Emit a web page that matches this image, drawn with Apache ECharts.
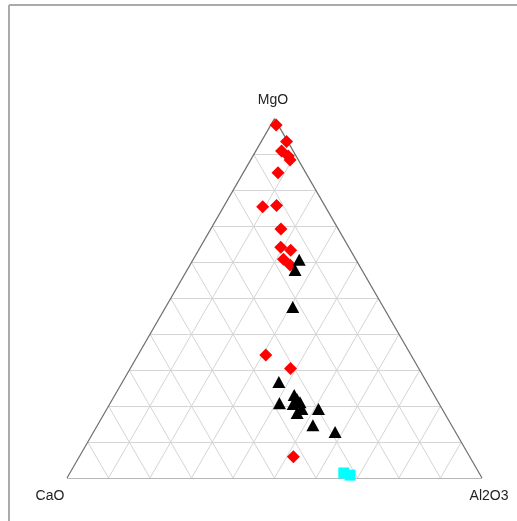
<!DOCTYPE html>
<html><head><meta charset="utf-8">
<script src="https://cdn.jsdelivr.net/npm/echarts@6/dist/echarts.min.js"></script>
<style>html,body{margin:0;padding:0;background:#fff}#c{width:517px;height:521px}</style>
</head><body><div id="c"></div>
<script>
// Vertex labels: left, top, right
var vertexLabels = ['CaO', 'MgO', 'Al2O3'];
// Compositions in percent: [MgO, Al2O3, CaO]
var redDiamonds = [
  [98.2, 1.3, 0.5], [93.6, 6.1, 0.3], [91.0, 6.2, 2.8], [89.6, 8.5, 1.9],
  [88.5, 9.5, 2.0], [84.9, 8.4, 6.7], [75.5, 9.4, 15.1], [75.8, 12.6, 11.6],
  [69.3, 16.9, 13.8], [64.2, 19.4, 16.4], [63.4, 22.2, 14.4], [60.9, 21.7, 17.4],
  [59.3, 24.1, 16.6], [34.2, 30.8, 35.0], [30.5, 38.6, 30.9], [5.9, 51.6, 42.5]
];
var blackTriangles = [
  [60.7, 25.6, 13.7], [57.9, 26.0, 16.1], [47.6, 30.6, 21.8], [26.7, 37.7, 35.6],
  [20.8, 40.8, 38.4], [23.1, 43.2, 33.7], [22.0, 44.4, 33.6], [21.1, 45.6, 33.3],
  [20.6, 44.2, 35.2], [19.2, 47.0, 33.8], [18.1, 46.4, 35.5], [19.2, 51.0, 29.8],
  [14.7, 51.9, 33.4], [12.8, 58.2, 29.0]
];
var cyanSquares = [
  [1.4, 66.0, 32.6], [0.8, 67.8, 31.4]
];
var gridSteps = [10, 20, 30, 40, 50, 60, 70, 80, 90];

var S = Math.sqrt(3) / 2;
function toXY(mg, al, ca) {
  var t = mg + al + ca;
  mg /= t; al /= t;
  return [al + mg / 2, mg * S];
}
function conv(arr) { return arr.map(function (d) { return toXY(d[0], d[1], d[2]); }); }

var gridLines = [];
gridSteps.forEach(function (p) {
  var q = 100 - p;
  gridLines.push({coords: [toXY(p, 0, q), toXY(p, q, 0)]});   // MgO const
  gridLines.push({coords: [toXY(0, p, q), toXY(q, p, 0)]});   // Al2O3 const
  gridLines.push({coords: [toXY(0, q, p), toXY(q, 0, p)]});   // CaO const
});
var edges = [
  {coords: [toXY(0, 0, 100), toXY(0, 100, 0)]},
  {coords: [toXY(0, 100, 0), toXY(100, 0, 0)]},
  {coords: [toXY(100, 0, 0), toXY(0, 0, 100)]}
];

var chart = echarts.init(document.getElementById('c'), null, {renderer: 'canvas'});
var txt = {fontFamily: 'Liberation Sans, Arial, sans-serif', fontSize: 14, fill: '#222'};
chart.setOption({
  animation: false,
  backgroundColor: '#fff',
  grid: {left: 67, top: 118.6, width: 415, height: 359.4},
  xAxis: {type: 'value', min: 0, max: 1, show: false},
  yAxis: {type: 'value', min: 0, max: S, show: false},
  graphic: [
    {type: 'line', shape: {x1: 9, y1: 5, x2: 9, y2: 521}, style: {stroke: '#aaa', lineWidth: 2}},
    {type: 'line', shape: {x1: 9, y1: 5, x2: 517, y2: 5}, style: {stroke: '#aaa', lineWidth: 2}},
    {type: 'text', x: 50, y: 496, style: Object.assign({text: vertexLabels[0], align: 'center', verticalAlign: 'middle'}, txt)},
    {type: 'text', x: 273, y: 100, style: Object.assign({text: vertexLabels[1], align: 'center', verticalAlign: 'middle'}, txt)},
    {type: 'text', x: 489, y: 496, style: Object.assign({text: vertexLabels[2], align: 'center', verticalAlign: 'middle'}, txt)}
  ],
  series: [
    {type: 'lines', coordinateSystem: 'cartesian2d', data: gridLines, silent: true,
     lineStyle: {color: '#d4d4d4', width: 1, opacity: 1}, z: 1},
    {type: 'lines', coordinateSystem: 'cartesian2d', data: edges, silent: true,
     lineStyle: {color: '#707070', width: 1.2, opacity: 1}, z: 2},
    {type: 'scatter', data: conv(redDiamonds), symbol: 'diamond', symbolSize: [13, 13],
     itemStyle: {color: '#ff0000', opacity: 1}, z: 3},
    {type: 'scatter', data: conv(blackTriangles), symbol: 'triangle', symbolSize: [13, 12],
     itemStyle: {color: '#000000', opacity: 1}, z: 4},
    {type: 'scatter', data: conv(cyanSquares), symbol: 'rect', symbolSize: [11, 11],
     itemStyle: {color: '#00ffff', opacity: 1}, z: 5}
  ]
});
</script></body></html>
